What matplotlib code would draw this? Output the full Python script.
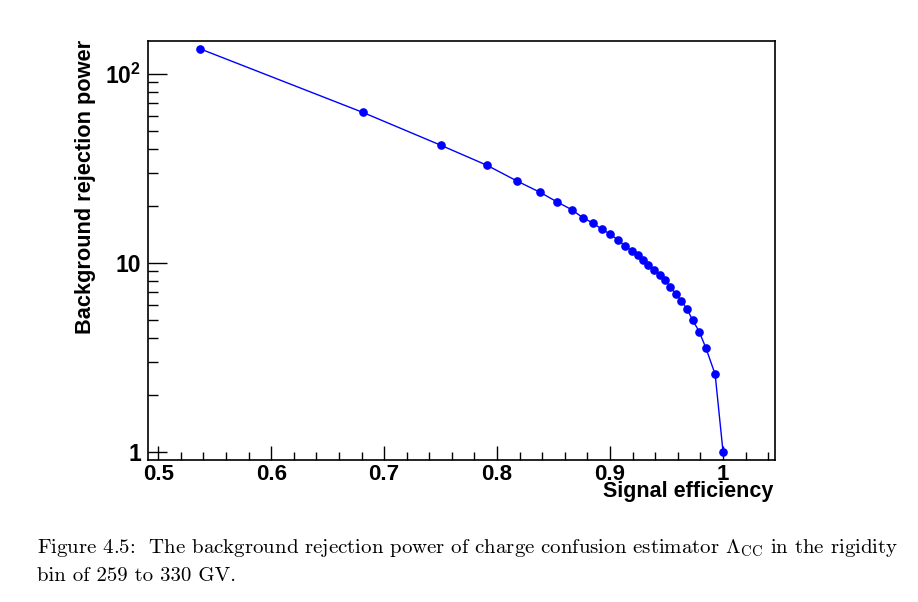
import numpy as np
import matplotlib
matplotlib.use("Agg")
import matplotlib.pyplot as plt
from matplotlib.ticker import FixedLocator, FixedFormatter, NullFormatter

# datos
eff = [0.537, 0.681, 0.750, 0.791, 0.818, 0.838, 0.853, 0.866, 0.876, 0.885,
       0.893, 0.900, 0.907, 0.913, 0.919, 0.925, 0.929, 0.934, 0.939, 0.944,
       0.949, 0.953, 0.958, 0.963, 0.968, 0.973, 0.979, 0.985, 0.993, 1.000]
rej = [135.5, 62.5, 41.9, 32.8, 27.0, 23.6, 21.0, 19.1, 17.3, 16.2,
       15.0, 14.2, 13.2, 12.3, 11.6, 10.96, 10.4, 9.78, 9.2, 8.66,
       8.15, 7.48, 6.87, 6.31, 5.70, 4.99, 4.31, 3.52, 2.57, 1.0]

xticks = [0.5, 0.6, 0.7, 0.8, 0.9, 1.0]
xticklabels = ['0.5', '0.6', '0.7', '0.8', '0.9', '1']
yticks = [1, 10, 100]
yticklabels = ['1', '10', r'$\mathbf{10^{2}}$']

plt.rcParams['font.family'] = ['Liberation Sans', 'DejaVu Sans']
plt.rcParams['mathtext.fontset'] = 'custom'
plt.rcParams['mathtext.bf'] = 'Liberation Sans:bold'
plt.rcParams['mathtext.rm'] = 'Liberation Sans:bold'

fig = plt.figure(figsize=(9.18, 6.02), dpi=100)
ax = fig.add_axes([148/918, 1-460/602, (775-148)/918, (460-41)/602])

ax.plot(eff, rej, color='#0000ff', lw=1.0, marker='o', ms=5.2, mec='#0000ff', mfc='#0000ff')

ax.set_yscale('log')
ax.set_xlim(0.491, 1.046)
ax.set_ylim(0.905, 149)

ax.xaxis.set_major_locator(FixedLocator(xticks))
ax.xaxis.set_major_formatter(FixedFormatter(xticklabels))
ax.xaxis.set_minor_locator(FixedLocator(np.arange(0.5, 1.046, 0.02)))
ax.yaxis.set_major_locator(FixedLocator(yticks))
ax.yaxis.set_major_formatter(FixedFormatter(yticklabels))
ax.yaxis.set_minor_locator(FixedLocator([k * d for d in (1, 10) for k in range(2, 10)]))
ax.yaxis.set_minor_formatter(NullFormatter())

ax.tick_params(axis='x', which='major', direction='in', length=10, width=1, pad=3,
               labelsize=16)
ax.tick_params(axis='x', which='minor', direction='in', length=5.5, width=1)
ax.tick_params(axis='y', which='major', direction='in', length=14, width=1, pad=5,
               labelsize=16.5)
ax.tick_params(axis='y', which='minor', direction='in', length=7, width=1)
for lab in ax.get_xticklabels() + ax.get_yticklabels():
    lab.set_fontweight('bold')

for s in ax.spines.values():
    s.set_linewidth(1.2)

fig.text(773/918, 1-497/602, 'Signal efficiency', ha='right', va='baseline',
         fontsize=15.5, fontweight='bold')
fig.text(86/918, 1-40/602, 'Background rejection power', ha='center', va='top',
         rotation=90, fontsize=15.7, fontweight='bold')

# pie de figura
fig.text(37/918, 1-548/602,
         r'Figure 4.5:  The background rejection power of charge confusion estimator $\Lambda_{\rm CC}$ in the rigidity',
         ha='left', va='center', fontsize=15, family='cmr10', math_fontfamily='cm')
fig.text(37/918, 1-576/602, 'bin of 259 to 330 GV.', ha='left', va='center',
         fontsize=15, family='cmr10')

fig.savefig('out.png', dpi=100)
